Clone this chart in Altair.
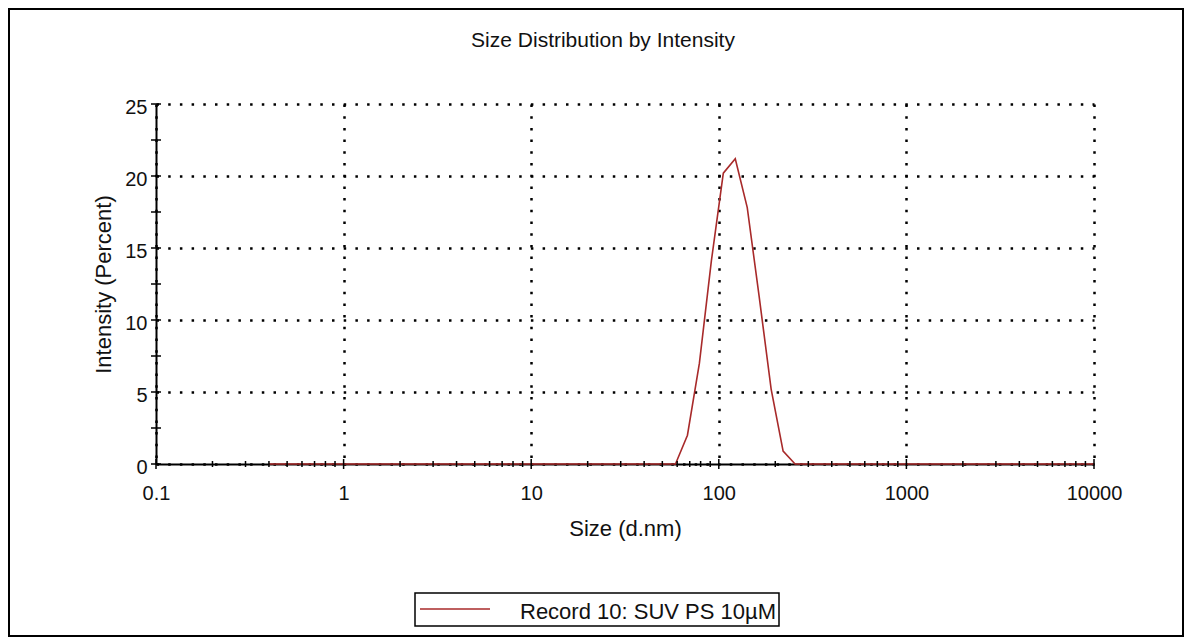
import altair as alt
import pandas as pd

TITLE = "Size Distribution by Intensity"
X_TITLE = "Size (d.nm)"
Y_TITLE = "Intensity (Percent)"
RECORD = "Record 10: SUV PS 10µM"

sizes = [0.4, 0.4632, 0.5365, 0.6213, 0.7195, 0.8332, 0.9649, 1.117, 1.294, 1.499,
         1.736, 2.01, 2.328, 2.696, 3.122, 3.615, 4.187, 4.849, 5.615, 6.503,
         7.531, 8.721, 10.1, 11.7, 13.54, 15.69, 18.17, 21.04, 24.36, 28.21,
         32.67, 37.84, 43.82, 50.75, 58.77, 68.06, 78.82, 91.28, 105.7, 122.4,
         141.8, 164.2, 190.1, 220.2, 255.0, 295.3, 342.0, 396.1, 458.7, 531.2,
         615.1, 712.4, 825.0, 955.4, 1106, 1281, 1484, 1718, 1990, 2305,
         2669, 3091, 3580, 4145, 4801, 5560, 6439, 7456, 8635, 10000]
intensity = [0, 0, 0, 0, 0, 0, 0, 0, 0, 0,
             0, 0, 0, 0, 0, 0, 0, 0, 0, 0,
             0, 0, 0, 0, 0, 0, 0, 0, 0, 0,
             0, 0, 0, 0, 0, 2.0, 7.0, 14.1, 20.2, 21.2,
             17.8, 11.6, 5.2, 0.9, 0, 0, 0, 0, 0, 0,
             0, 0, 0, 0, 0, 0, 0, 0, 0, 0,
             0, 0, 0, 0, 0, 0, 0, 0, 0, 0]

x_labels = [0.1, 1, 10, 100, 1000, 10000]
x_minor = [m * d for d in [0.1, 1, 10, 100, 1000] for m in range(2, 10)]
y_labels = [0, 5, 10, 15, 20, 25]
y_ticks = [0, 2.5, 5, 7.5, 10, 12.5, 15, 17.5, 20, 22.5, 25]

W, H = 938, 360
FONT = "Liberation Sans"
RED = "#a82a2a"
INK = "#111111"

df = pd.DataFrame({"size": sizes, "intensity": intensity, "record": RECORD})
xscale = alt.Scale(type="log", domain=[0.1, 10000], nice=False)
yscale = alt.Scale(domain=[0, 25], nice=False, zero=False)

xaxis = alt.Axis(values=x_labels, format="~g", title=X_TITLE, grid=True,
                 ticks=False, tickSize=0, labelPadding=19,
                 titleX=469, titleY=71, titleBaseline="alphabetic")
yaxis = alt.Axis(values=y_labels, title=Y_TITLE, grid=True,
                 ticks=False, tickSize=0, labelPadding=9, labelOffset=3,
                 titleX=-46, titleY=180, titleAngle=-90,
                 titleBaseline="alphabetic")

line = alt.Chart(df).mark_line(color=RED, strokeWidth=1.6).encode(
    x=alt.X("size:Q", scale=xscale, axis=xaxis),
    y=alt.Y("intensity:Q", scale=yscale, axis=yaxis),
)

ytick_layer = alt.Chart(pd.DataFrame({"v": y_ticks})).mark_rule(
    color="black", strokeWidth=1.5).encode(
    y=alt.Y("v:Q", scale=yscale, axis=yaxis),
    x=alt.value(-5), x2=alt.value(5))

xminor_layer = alt.Chart(pd.DataFrame({"v": x_minor})).mark_rule(
    color="black", strokeWidth=1.5).encode(
    x=alt.X("v:Q", scale=xscale, axis=xaxis),
    y=alt.value(H - 3), y2=alt.value(H + 3))

xmajor_layer = alt.Chart(pd.DataFrame({"v": x_labels})).mark_rule(
    color="black", strokeWidth=1.5).encode(
    x=alt.X("v:Q", scale=xscale, axis=xaxis),
    y=alt.value(H - 5), y2=alt.value(H + 5))

one = pd.DataFrame({"t": [TITLE], "r": [RECORD]})

title_layer = alt.Chart(one).mark_text(
    font=FONT, fontSize=21, color=INK, align="center", baseline="alphabetic").encode(
    text="t:N", x=alt.value(447), y=alt.value(-57))

frame = alt.Chart(one).mark_rect(fillOpacity=0, stroke="black", strokeWidth=2).encode(
    x=alt.value(-147), x2=alt.value(1027), y=alt.value(-95), y2=alt.value(532))

legend_box = alt.Chart(one).mark_rect(fill="white", stroke="black", strokeWidth=1.5).encode(
    x=alt.value(259), x2=alt.value(623), y=alt.value(489), y2=alt.value(522))

legend_line = alt.Chart(one).mark_rule(color=RED, strokeWidth=1.6).encode(
    x=alt.value(264), x2=alt.value(334), y=alt.value(505))

legend_text = alt.Chart(one).mark_text(
    font=FONT, fontSize=22, color=INK, align="left", baseline="alphabetic").encode(
    text="r:N", x=alt.value(364), y=alt.value(515))

chart = alt.layer(
    line, ytick_layer, xminor_layer, xmajor_layer, title_layer, frame,
    legend_box, legend_line, legend_text
).properties(
    width=W, height=H,
    padding={"left": 148, "top": 96, "right": 90, "bottom": 174},
    autosize=alt.AutoSizeParams(type="none"),
).configure_view(stroke=None).configure_axis(
    domainColor="black", domainWidth=2,
    gridColor="black", gridDash=[2.5, 9.2], gridWidth=2.5, gridOpacity=1,
    labelFont=FONT, labelFontSize=20, labelColor=INK, labelFlush=False,
    titleFont=FONT, titleFontSize=22, titleFontWeight="normal", titleColor=INK,
)

chart.save("out.html", embed_options={"renderer": "svg", "actions": False})
